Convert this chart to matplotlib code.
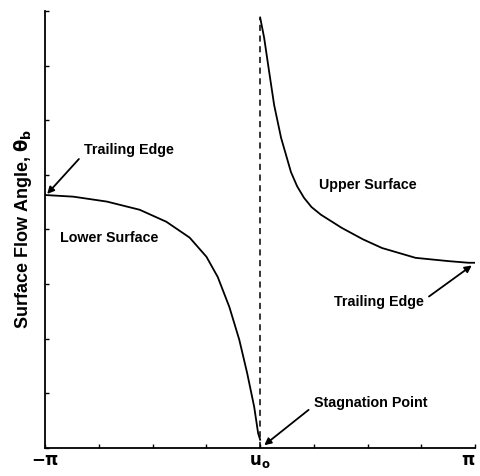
import numpy as np
import matplotlib.pyplot as plt

plt.rcParams['font.family'] = ['Liberation Sans', 'DejaVu Sans']

# lower surface: from trailing edge (-pi) to stagnation point (0)
lower_x = [-3.1416, -2.73, -2.24, -1.76, -1.37, -1.03, -0.785, -0.62,
           -0.45, -0.305, -0.19, -0.087, -0.03, 0.0]
lower_y = [4.63, 4.60, 4.51, 4.36, 4.14, 3.85, 3.50, 3.13,
           2.58, 1.98, 1.37, 0.75, 0.27, 0.15]

# upper surface: from stagnation point (0) to trailing edge (pi)
upper_x = [0.0, 0.058, 0.131, 0.204, 0.305, 0.45, 0.54, 0.64, 0.75, 0.887, 1.19,
           1.50, 1.78, 2.27, 2.75, 3.04, 3.1416]
upper_y = [7.88, 7.51, 6.89, 6.28, 5.68, 5.05, 4.79, 4.58, 4.41, 4.27, 4.03,
           3.82, 3.66, 3.48, 3.42, 3.39, 3.39]

xtick_pos = np.linspace(-np.pi, np.pi, 9)
xtick_labels = [r'$\mathbf{-\pi}$', '', '', '', r'$\mathbf{u_o}$', '', '', '', r'$\mathbf{\pi}$']
ytick_pos = np.arange(0, 9)

fig = plt.figure(figsize=(4.8, 4.76), dpi=100)
ax = fig.add_axes([0.094, 0.059, 0.896, 0.918])

ax.plot(lower_x, lower_y, color='black', lw=1.3)
ax.plot(upper_x, upper_y, color='black', lw=1.3)
ax.plot([0, 0], [0, upper_y[0]], color='black', lw=1.1, ls=(0, (4, 3)))

ax.set_xlim(-np.pi, np.pi)
ax.set_ylim(0, 8)
ax.set_xticks(xtick_pos)
ax.set_xticklabels(xtick_labels, fontsize=12)
ax.get_xticklabels()[-1].set_ha('right')
ax.set_yticks(ytick_pos)
ax.set_yticklabels([])
ax.tick_params(direction='in', length=3, width=1, pad=4)
for s in ['top', 'right']:
    ax.spines[s].set_visible(False)
for s in ['left', 'bottom']:
    ax.spines[s].set_linewidth(1.3)

ax.set_ylabel(r'Surface Flow Angle, $\mathbf{\theta_b}$', fontsize=13,
              fontweight='bold', labelpad=4)


def arrow(rel):
    return dict(arrowstyle='-|>', color='black', lw=1.3, mutation_scale=10,
                shrinkA=2, shrinkB=0, relpos=rel)


fs = 10.3
ax.annotate('Trailing Edge', xy=(lower_x[0] + 0.03, lower_y[0] + 0.02),
            xytext=(-2.58, 5.46), fontsize=fs, fontweight='bold',
            ha='left', va='center', arrowprops=arrow((0, 0.2)))
ax.annotate('Trailing Edge', xy=(upper_x[-1] - 0.05, upper_y[-1] - 0.05),
            xytext=(1.08, 2.68), fontsize=fs, fontweight='bold',
            ha='left', va='center', arrowprops=arrow((1, 0.6)))
ax.annotate('Stagnation Point', xy=(0.06, 0.05),
            xytext=(0.78, 0.82), fontsize=fs, fontweight='bold',
            ha='left', va='center', arrowprops=arrow((0, 0.3)))
ax.text(-2.93, 3.84, 'Lower Surface', fontsize=fs, fontweight='bold',
        ha='left', va='center')
ax.text(0.86, 4.82, 'Upper Surface', fontsize=fs, fontweight='bold',
        ha='left', va='center')

fig.savefig('out.png', dpi=100)
